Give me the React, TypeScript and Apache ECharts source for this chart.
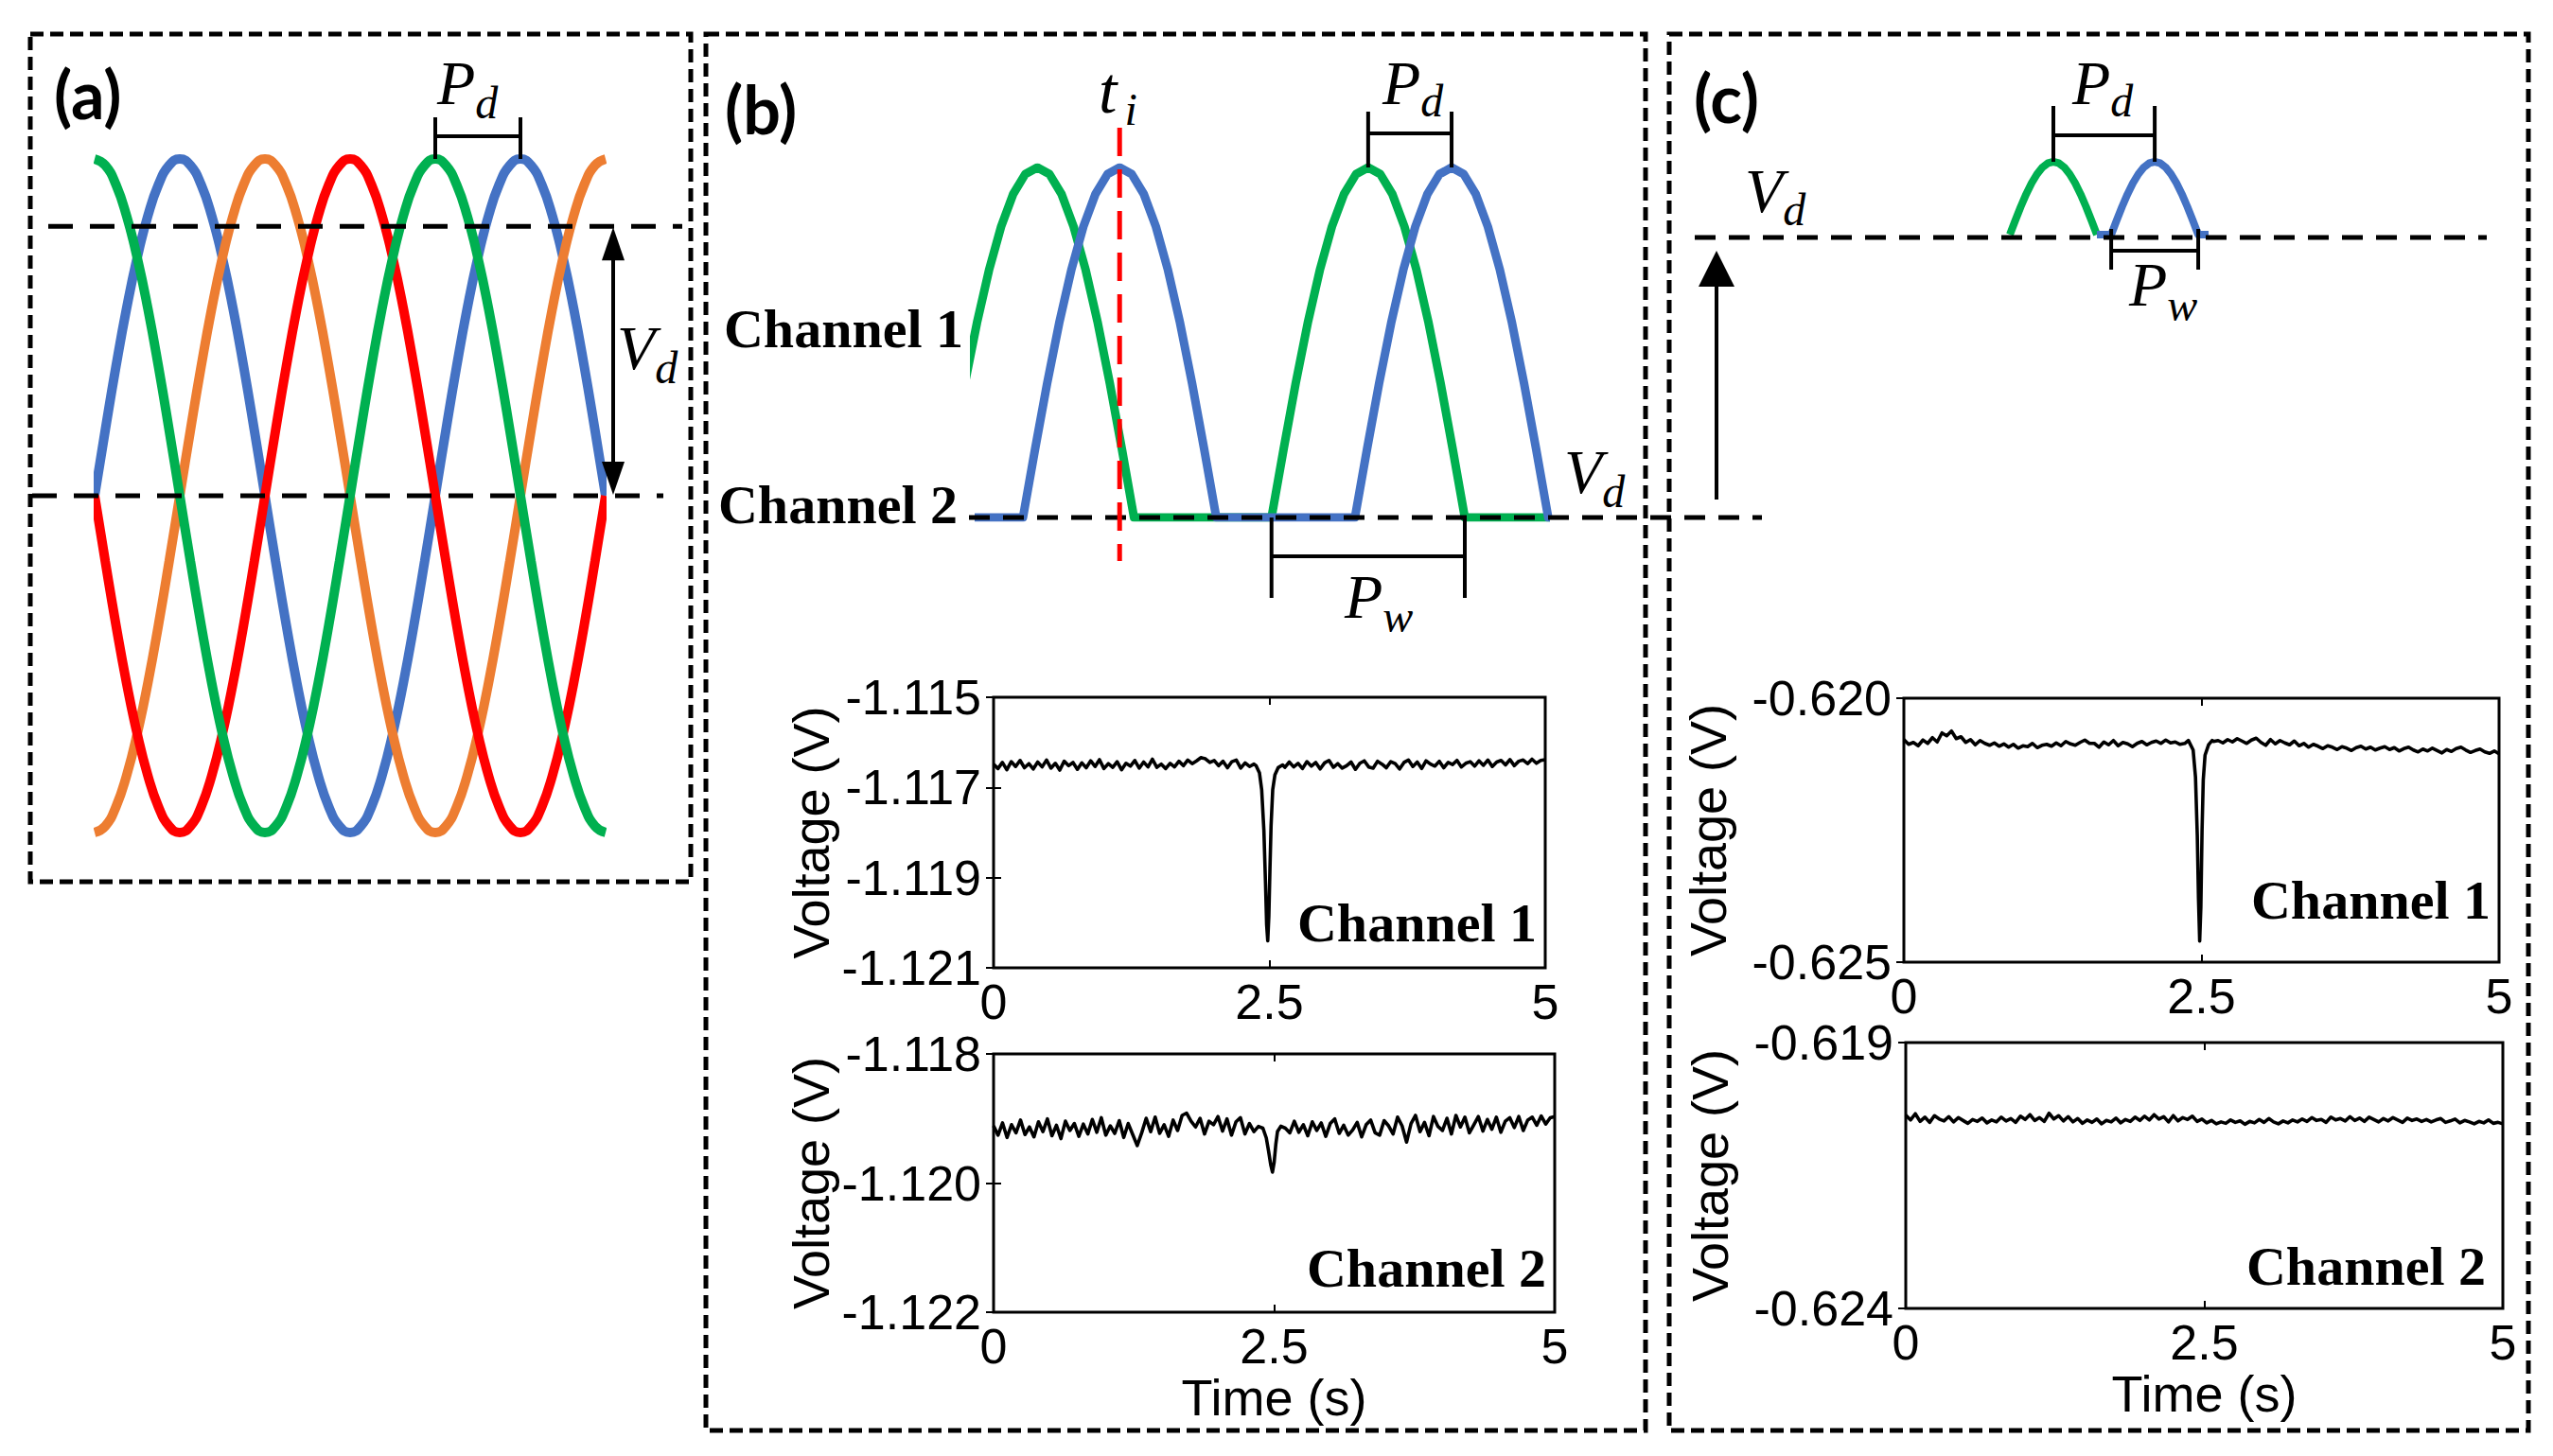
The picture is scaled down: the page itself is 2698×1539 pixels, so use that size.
import React, { useEffect, useRef } from "react";
import * as echarts from "echarts";

const W = 2698;
const H = 1539;

// ---------------- Panel (a): four phase-shifted sinusoids ----------------
// one cycle, sampled every 11.25 degrees, starting at the crest
const sineCycle = [
  1, 0.981, 0.924, 0.831, 0.707, 0.556, 0.383, 0.195, 0, -0.195, -0.383, -0.556, -0.707, -0.831, -0.924, -0.981,
  -1, -0.981, -0.924, -0.831, -0.707, -0.556, -0.383, -0.195, 0, 0.195, 0.383, 0.556, 0.707, 0.831, 0.924, 0.981,
];
const phaseColors = ["#4472C4", "#ED7D31", "#FF0000", "#00B050"];
const phaseCrests = [86, 176, 266, 356]; // degrees along the phase axis
const phaseAxisMax = 532;
const thresholdVd = 0.8;

// ---------------- Panel (b): half-sine pulses on two channels ----------------
const halfSinePulse = [0, 0.195, 0.383, 0.556, 0.707, 0.831, 0.924, 0.981, 1, 0.981, 0.924, 0.831, 0.707, 0.556, 0.383, 0.195, 0];
const bGreenCrests = [10.9, 68.4];
const bBlueCrests = [25.2, 82.9];
const bHalfWidth = 16.8;
const bTi = 25.2;

// ---------------- Panel (c) ----------------
const cGreenCrests = [21.9];
const cBlueCrests = [72.9];
const cHalfWidth = 21.9;

// ---------------- Measured traces (5 s, samples every 0.04 s) ----------------
const timeTicks = [0, 2.5, 5];
const b1Ticks = [-1.121, -1.119, -1.117, -1.115];
const b2Ticks = [-1.122, -1.12, -1.118];
const c1Ticks = [-0.625, -0.62];
const c2Ticks = [-0.624, -0.619];

// noise, in counts of 1.8 µV
const noiseCount = 1.8e-6;

const b1Base = -1.1165;
const b1Noise = [
  10, -45, 30, -60, 40, -20, 55, -35, 15, -50,
  35, -25, 60, -40, 20, -65, 45, -10, 30, -55,
  25, -35, 50, -20, 65, -45, 15, -30, 40, -60,
  20, -15, 55, -40, 35, -25, 70, -30, 10, -45,
  20, -25, 45, -10, 60, 15, 50, 90, 75, 30,
  55, -10, 45, -35, 40, 60, -40, 25, -20, 10,
  0, 0, 0, 0, 0, 0, -30, 35, -25, 20,
  -45, 40, -15, 30, -50, 25, 55, -30, 15, -40,
  -10, 35, -55, 20, 50, -25, -40, 45, 10, -35,
  40, 15, -50, 30, 60, -20, 35, -45, 50, 10,
  -15, 45, -35, 30, 5, 55, -25, 20, 40, -15,
  50, -5, 60, -20, 35, 55, 0, 65, -10, 45,
  60, 15, 70, 20, 55, 65,
];
const b1DipT = [2.38, 2.41, 2.43, 2.45, 2.465, 2.475, 2.485, 2.495, 2.505, 2.515, 2.53, 2.55, 2.58, 2.62];
const b1DipV = [-1.11652, -1.11668, -1.11705, -1.11795, -1.11915, -1.12005, -1.1204, -1.11985, -1.1188, -1.11785, -1.11705, -1.11672, -1.11656, -1.1165];

const b2Base = -1.11915;
const b2Noise = [
  20, -60, 45, -80, 30, -40, 70, -55, 10, -75,
  55, -30, 80, -65, 25, -90, 60, -20, 40, -70,
  35, -50, 75, -35, 90, -60, 20, -45, 65, -80,
  40, -55, -150, -40, 85, -30, 95, -45, 30, -70,
  70, -20, 110, 130, 60, 10, 85, -50, 60, 30,
  100, -25, 80, -60, 55, 90, -50, 40, -30, 15,
  0, 0, 0, 0, 0, 0, -40, 60, -35, 30,
  -65, 55, -20, 45, -70, 40, 80, -45, 25, -60,
  -15, 50, -75, 30, 70, -40, -60, 65, 20, -50,
  95, 20, -120, 40, 110, -30, 50, -65, 100, 15,
  -20, 85, -50, 110, 10, 95, -40, 30, 100, -25,
  75, -10, 95, -35, 60, 90, 5, 100, -20, 70,
  95, 25, 105, 35, 90, 100,
];
const b2DipT = [2.4, 2.43, 2.45, 2.47, 2.485, 2.5, 2.515, 2.53, 2.56];
const b2DipV = [-1.11915, -1.1193, -1.1195, -1.11972, -1.11983, -1.11968, -1.1194, -1.1192, -1.11912];

const c1Base = -0.62082;
const c1Noise = [
  20, -30, -10, -45, 15, -20, 40, -5, 90, 60,
  110, 30, 50, -10, 20, -35, 10, -20, -40, -15,
  -50, -25, -60, -30, -70, -45, -55, -20, -65, -40,
  -30, -50, -15, -45, 0, -25, -40, -10, 15, -20,
  -20, -60, -5, -35, 10, -45, -10, -25, -55, -20,
  0, -35, -10, 5, -20, 15, -15, -5, -30, -20,
  0, 0, 0, 0, 0, 0, 10, -15, 20, -5,
  30, 5, -20, 15, 35, -10, -40, 20, -25, 10,
  -15, -35, 5, -45, -20, -60, -30, -50, -75, -45,
  -60, -85, -55, -70, -95, -65, -50, -80, -60, -90,
  -70, -55, -85, -65, -100, -75, -60, -90, -110, -80,
  -100, -70, -95, -120, -85, -105, -75, -60, -90, -115,
  -95, -80, -110, -125, -100, -130,
];
const c1DipT = [2.39, 2.43, 2.45, 2.465, 2.475, 2.485, 2.495, 2.505, 2.515, 2.53, 2.56, 2.59];
const c1DipV = [-0.6208, -0.62098, -0.6215, -0.6226, -0.6238, -0.6246, -0.62395, -0.6225, -0.62155, -0.62108, -0.62088, -0.6208];

const c2Base = -0.62042;
const c2Noise = [
  30, -20, 45, -35, 10, -45, 25, -10, -30, 15,
  -40, 5, -25, -55, -15, -35, 0, -50, -20, -40,
  10, -30, -5, -45, 20, -15, 35, -25, 5, -35,
  50, -10, 25, -30, 15, -40, -5, -55, -20, -45,
  -10, -60, -25, -40, 0, -50, -15, -35, 10, -25,
  20, -20, 35, -10, 15, -40, 25, -30, 5, -15,
  20, -35, -10, -50, -25, -60, -40, -55, -20, -45,
  -30, -65, -35, -50, -15, -45, -5, -40, -60, -30,
  -50, -20, -40, -10, -35, 5, -25, -15, -45, 10,
  -20, -5, -30, 15, -25, 0, -35, 10, -15, -40,
  -5, -30, 5, -20, -45, 0, -25, -10, -35, -15,
  -40, -20, -5, -45, -30, -10, -50, -25, -40, -60,
  -35, -50, -20, -55, -45, -60,
];
const c2DipT: number[] = [];
const c2DipV: number[] = [];

const sampleTimes = b1Noise.map((_, i) => Math.round(i * 4) / 100);

// ---------------- helpers ----------------
type G = { left: number; top: number; width: number; height: number; xMin: number; xMax: number; yMin: number; yMax: number };
const px = (g: G, x: number) => g.left + ((x - g.xMin) / (g.xMax - g.xMin)) * g.width;
const py = (g: G, y: number) => g.top + ((g.yMax - y) / (g.yMax - g.yMin)) * g.height;

function wave(crest: number) {
  const pts: number[][] = [];
  for (let k = -48; k <= 48; k++) {
    const x = crest + k * 11.25;
    if (x >= -12 && x <= phaseAxisMax + 12) pts.push([x, sineCycle[((k % 32) + 32) % 32]]);
  }
  return pts;
}

function pulseTrain(crests: number[], half: number, from: number | null, to: number | null) {
  const pts: number[][] = [];
  if (from != null) pts.push([from, 0]);
  crests.forEach((c) => {
    halfSinePulse.forEach((v, k) => pts.push([c - half + (k * half) / 8, v]));
  });
  if (to != null) pts.push([to, 0]);
  return pts;
}

function buildTrace(base: number, noise: number[], dipT: number[], dipV: number[]) {
  const pts: number[][] = [];
  noise.forEach((o, i) => {
    const t = sampleTimes[i];
    if (!dipT.length || t < dipT[0] || t > dipT[dipT.length - 1]) pts.push([t, base + o * noiseCount]);
  });
  dipT.forEach((t, i) => pts.push([t, dipV[i]]));
  pts.sort((a, b) => a[0] - b[0]);
  return pts;
}

const gA: G = { left: 104, top: 168, width: 532, height: 712, xMin: 0, xMax: phaseAxisMax, yMin: -1, yMax: 1 };
const gB: G = { left: 1030, top: 177, width: 608, height: 370, xMin: 0, xMax: 100, yMin: 0, yMax: 1 };
const gC: G = { left: 2124, top: 171, width: 210, height: 77, xMin: 0, xMax: 100, yMin: 0, yMax: 1 };

const plots = [
  { left: 1050, top: 737, width: 583, height: 286, yMin: -1.121, yMax: -1.115, ticks: b1Ticks, data: buildTrace(b1Base, b1Noise, b1DipT, b1DipV), label: "Channel 1", lx: 1624, ly: 975, vGap: 166, time: false, tGap: 0 },
  { left: 1050, top: 1114, width: 593, height: 273, yMin: -1.122, yMax: -1.118, ticks: b2Ticks, data: buildTrace(b2Base, b2Noise, b2DipT, b2DipV), label: "Channel 2", lx: 1634, ly: 1340, vGap: 166, time: true, tGap: 58 },
  { left: 2012, top: 738, width: 629, height: 279, yMin: -0.625, yMax: -0.62, ticks: c1Ticks, data: buildTrace(c1Base, c1Noise, c1DipT, c1DipV), label: "Channel 1", lx: 2632, ly: 951, vGap: 180, time: false, tGap: 0 },
  { left: 2014, top: 1102, width: 631, height: 281, yMin: -0.624, yMax: -0.619, ticks: c2Ticks, data: buildTrace(c2Base, c2Noise, c2DipT, c2DipV), label: "Channel 2", lx: 2627, ly: 1338, vGap: 180, time: true, tGap: 60 },
];

const mathFont = (s: number) => `italic ${s}px "Liberation Serif"`;
const chanFont = 'bold 58px "Liberation Serif"';
const panelFont = "bold 70px Lato";

function buildOption() {
  const grids: any[] = [];
  const xAxes: any[] = [];
  const yAxes: any[] = [];
  const series: any[] = [];

  [gA, gB, gC].forEach((g, i) => {
    grids.push({ left: g.left, top: g.top, width: g.width, height: g.height, show: false });
    xAxes.push({ type: "value", gridIndex: i, min: g.xMin, max: g.xMax, show: false });
    yAxes.push({ type: "value", gridIndex: i, min: g.yMin, max: g.yMax, show: false });
  });

  phaseCrests.forEach((crest, i) => {
    series.push({
      type: "line", xAxisIndex: 0, yAxisIndex: 0, data: wave(crest), smooth: true, symbol: "none", showSymbol: false,
      clip: true, lineStyle: { color: phaseColors[i], width: 10 }, z: 2 + i, silent: true,
    });
  });

  const pulseSeries = (axis: number, data: number[][], color: string, z: number, width: number) => ({
    type: "line", xAxisIndex: axis, yAxisIndex: axis, data, smooth: false, symbol: "none", showSymbol: false,
    clip: true, lineStyle: { color, width, join: "round" }, z, silent: true,
  });
  series.push(pulseSeries(1, pulseTrain(bGreenCrests, bHalfWidth, null, 100), "#00B050", 3, 9));
  series.push(pulseSeries(1, pulseTrain(bBlueCrests, bHalfWidth, 0, 100), "#4472C4", 4, 9));
  series.push(pulseSeries(2, pulseTrain(cGreenCrests, cHalfWidth, null, null), "#00B050", 3, 8));
  series.push(pulseSeries(2, pulseTrain(cBlueCrests, cHalfWidth, cGreenCrests[0] + cHalfWidth, 100), "#4472C4", 4, 8));

  const tickFont = { fontSize: 52, fontFamily: "Liberation Sans", color: "#000" };
  const nameFont = { fontSize: 54, fontFamily: "Liberation Sans", color: "#000" };

  plots.forEach((p) => {
    const gi = grids.length;
    grids.push({ left: p.left, top: p.top, width: p.width, height: p.height, show: true, borderColor: "#000", borderWidth: 3, backgroundColor: "transparent" });
    const tick = (vals: number[]) => ({ show: true, inside: true, length: 8, lineStyle: { color: "#000", width: 2 }, customValues: vals });
    const xi = xAxes.length;
    xAxes.push({
      type: "value", gridIndex: gi, min: 0, max: 5, position: "bottom", splitLine: { show: false }, axisLine: { show: false },
      axisTick: tick(timeTicks),
      axisLabel: { show: true, customValues: timeTicks, formatter: (v: number) => String(v), margin: 10, ...tickFont },
      name: p.time ? "Time (s)" : "", nameLocation: "middle", nameGap: p.tGap, nameTextStyle: nameFont,
    });
    xAxes.push({
      type: "value", gridIndex: gi, min: 0, max: 5, position: "top", splitLine: { show: false }, axisLine: { show: false },
      axisTick: tick(timeTicks), axisLabel: { show: false },
    });
    const yi = yAxes.length;
    yAxes.push({
      type: "value", gridIndex: gi, min: p.yMin, max: p.yMax, position: "left", splitLine: { show: false }, axisLine: { show: false },
      axisTick: tick(p.ticks),
      axisLabel: { show: true, customValues: p.ticks, formatter: (v: number) => v.toFixed(3), margin: 13, ...tickFont },
      name: "Voltage (V)", nameLocation: "middle", nameGap: p.vGap, nameRotate: 90, nameTextStyle: nameFont,
    });
    yAxes.push({
      type: "value", gridIndex: gi, min: p.yMin, max: p.yMax, position: "right", splitLine: { show: false }, axisLine: { show: false },
      axisTick: tick(p.ticks), axisLabel: { show: false },
    });
    series.push({
      type: "line", xAxisIndex: xi, yAxisIndex: yi, data: p.data, symbol: "none", showSymbol: false, clip: true,
      lineStyle: { color: "#000", width: 3.6, join: "round" }, z: 5, silent: true,
    });
  });

  // ---------------- annotations ----------------
  const g: any[] = [];
  const Z = 100;
  const line = (x1: number, y1: number, x2: number, y2: number, width = 4, dash: number[] | null = null, color = "#000") =>
    g.push({ type: "line", silent: true, z: Z, shape: { x1, y1, x2, y2 }, style: { stroke: color, lineWidth: width, lineDash: dash } });
  const text = (x: number, y: number, t: string, font: string, align = "left") =>
    g.push({ type: "text", silent: true, z: Z, x, y, style: { text: t, font, fill: "#000", align, verticalAlign: "middle", textAlign: align, textVerticalAlign: "middle" } });
  // italic symbol with a lowered subscript, as one rich text; baseline = main glyph baseline
  const math = (x: number, baseline: number, main: string, sub: string, m = 66, s = 48, drop = 15, gap = 0) => {
    const subH = 2 * (0.3375 * s + 0.1625 * m - drop);
    g.push({
      type: "text", silent: true, z: Z, x, y: baseline + 0.1625 * m,
      style: {
        text: `{m|${main}}{s|${sub}}`, fill: "#000", align: "left", verticalAlign: "bottom", textAlign: "left", textVerticalAlign: "bottom",
        rich: {
          m: { font: mathFont(m), height: m, lineHeight: m, verticalAlign: "bottom", fill: "#000" },
          s: { font: mathFont(s), height: subH, lineHeight: subH, verticalAlign: "bottom", fill: "#000", padding: [0, 0, 0, gap] },
        },
      },
    });
  };
  const poly = (pts: number[][]) => g.push({ type: "polygon", silent: true, z: Z, shape: { points: pts }, style: { fill: "#000" } });
  const rect = (x: number, y: number, w: number, h: number) =>
    g.push({ type: "rect", silent: true, z: Z, shape: { x, y, width: w, height: h }, style: { fill: "none", stroke: "#000", lineWidth: 5, lineDash: [14, 7] } });

  // panel frames
  rect(32, 36, 698, 896);
  rect(746, 36, 993, 1476);
  rect(1764, 36, 908, 1476);

  // panel (a)
  text(57, 99, "(a)", panelFont);
  const yTop = py(gA, thresholdVd);
  const yMid = py(gA, 0);
  line(51, yTop, 721, yTop, 5, [26, 18]);
  line(34, yMid, 701, yMid, 5, [26, 18]);
  const ax = 648;
  line(ax, yTop + 30, ax, yMid - 30, 4);
  poly([[ax, yTop + 1], [ax - 12, yTop + 36], [ax + 12, yTop + 36]]);
  poly([[ax, yMid - 1], [ax - 12, yMid - 36], [ax + 12, yMid - 36]]);
  math(652, 390, "V", "d", 66, 48, 15, 0);
  const aP1 = px(gA, phaseCrests[3]);
  const aP2 = px(gA, phaseCrests[0] + 360);
  const aPeakY = py(gA, 1);
  line(aP1, 124, aP1, aPeakY, 4);
  line(aP2, 124, aP2, aPeakY, 4);
  line(aP1, 144, aP2, 144, 4);
  math(462, 110, "P", "d", 66, 48, 15, 0);

  // panel (b)
  text(766, 115, "(b)", panelFont);
  text(1018, 347, "Channel 1", chanFont, "right");
  text(1012, 533, "Channel 2", chanFont, "right");
  const bBase = py(gB, 0);
  line(1024, bBase, 1862, bBase, 5, [22, 14]);
  const tiX = px(gB, bTi);
  line(tiX, 135, tiX, 593, 5, [30, 14], "#FF0000");
  math(1161, 119, "t", "i", 70, 48, 13, 8);
  const bP1 = px(gB, bGreenCrests[1]);
  const bP2 = px(gB, bBlueCrests[1]);
  const bPeakY = py(gB, 1);
  line(bP1, 118, bP1, bPeakY, 4);
  line(bP2, 118, bP2, bPeakY, 4);
  line(bP1, 141, bP2, 141, 4);
  math(1461, 110, "P", "d", 66, 48, 13, 0);
  const bW1 = px(gB, bGreenCrests[1] - bHalfWidth);
  const bW2 = px(gB, bGreenCrests[1] + bHalfWidth);
  line(bW1, bBase, bW1, 632, 4);
  line(bW2, bBase, bW2, 632, 4);
  line(bW1, 588, bW2, 588, 4);
  math(1421, 653, "P", "w", 66, 48, 15, 0);
  math(1653, 521, "V", "d", 66, 48, 15, 0);

  // panel (c)
  text(1790, 103, "(c)", panelFont);
  line(1791, 251, 2628, 251, 5, [22, 14]);
  line(1814, 300, 1814, 528, 4);
  poly([[1814, 265], [1795, 303], [1833, 303]]);
  math(1844, 224, "V", "d", 66, 48, 14, 0);
  const cP1 = px(gC, cGreenCrests[0]);
  const cP2 = px(gC, cBlueCrests[0]);
  const cPeakY = py(gC, 1);
  line(cP1, 112, cP1, cPeakY, 4);
  line(cP2, 112, cP2, cPeakY, 4);
  line(cP1, 143, cP2, 143, 4);
  math(2190, 110, "P", "d", 66, 48, 13, 0);
  const cW1 = px(gC, cBlueCrests[0] - cHalfWidth);
  const cW2 = px(gC, cBlueCrests[0] + cHalfWidth);
  line(cW1, 242, cW1, 285, 4);
  line(cW2, 242, cW2, 285, 4);
  line(cW1, 265, cW2, 265, 4);
  math(2250, 323, "P", "w", 66, 48, 16, 0);

  plots.forEach((p) => text(p.lx, p.ly, p.label, chanFont, "right"));

  return {
    animation: false,
    backgroundColor: "#fff",
    textStyle: { fontFamily: "Liberation Sans" },
    grid: grids,
    xAxis: xAxes,
    yAxis: yAxes,
    series,
    graphic: { elements: g },
  };
}

export default function App() {
  const ref = useRef<HTMLDivElement>(null);
  useEffect(() => {
    if (!ref.current) return;
    const chart = echarts.init(ref.current, null, { renderer: "svg", width: W, height: H });
    chart.setOption(buildOption() as any);
    return () => chart.dispose();
  }, []);
  return <div ref={ref} style={{ position: "absolute", left: 0, top: 0, width: W, height: H, background: "#fff" }} />;
}
